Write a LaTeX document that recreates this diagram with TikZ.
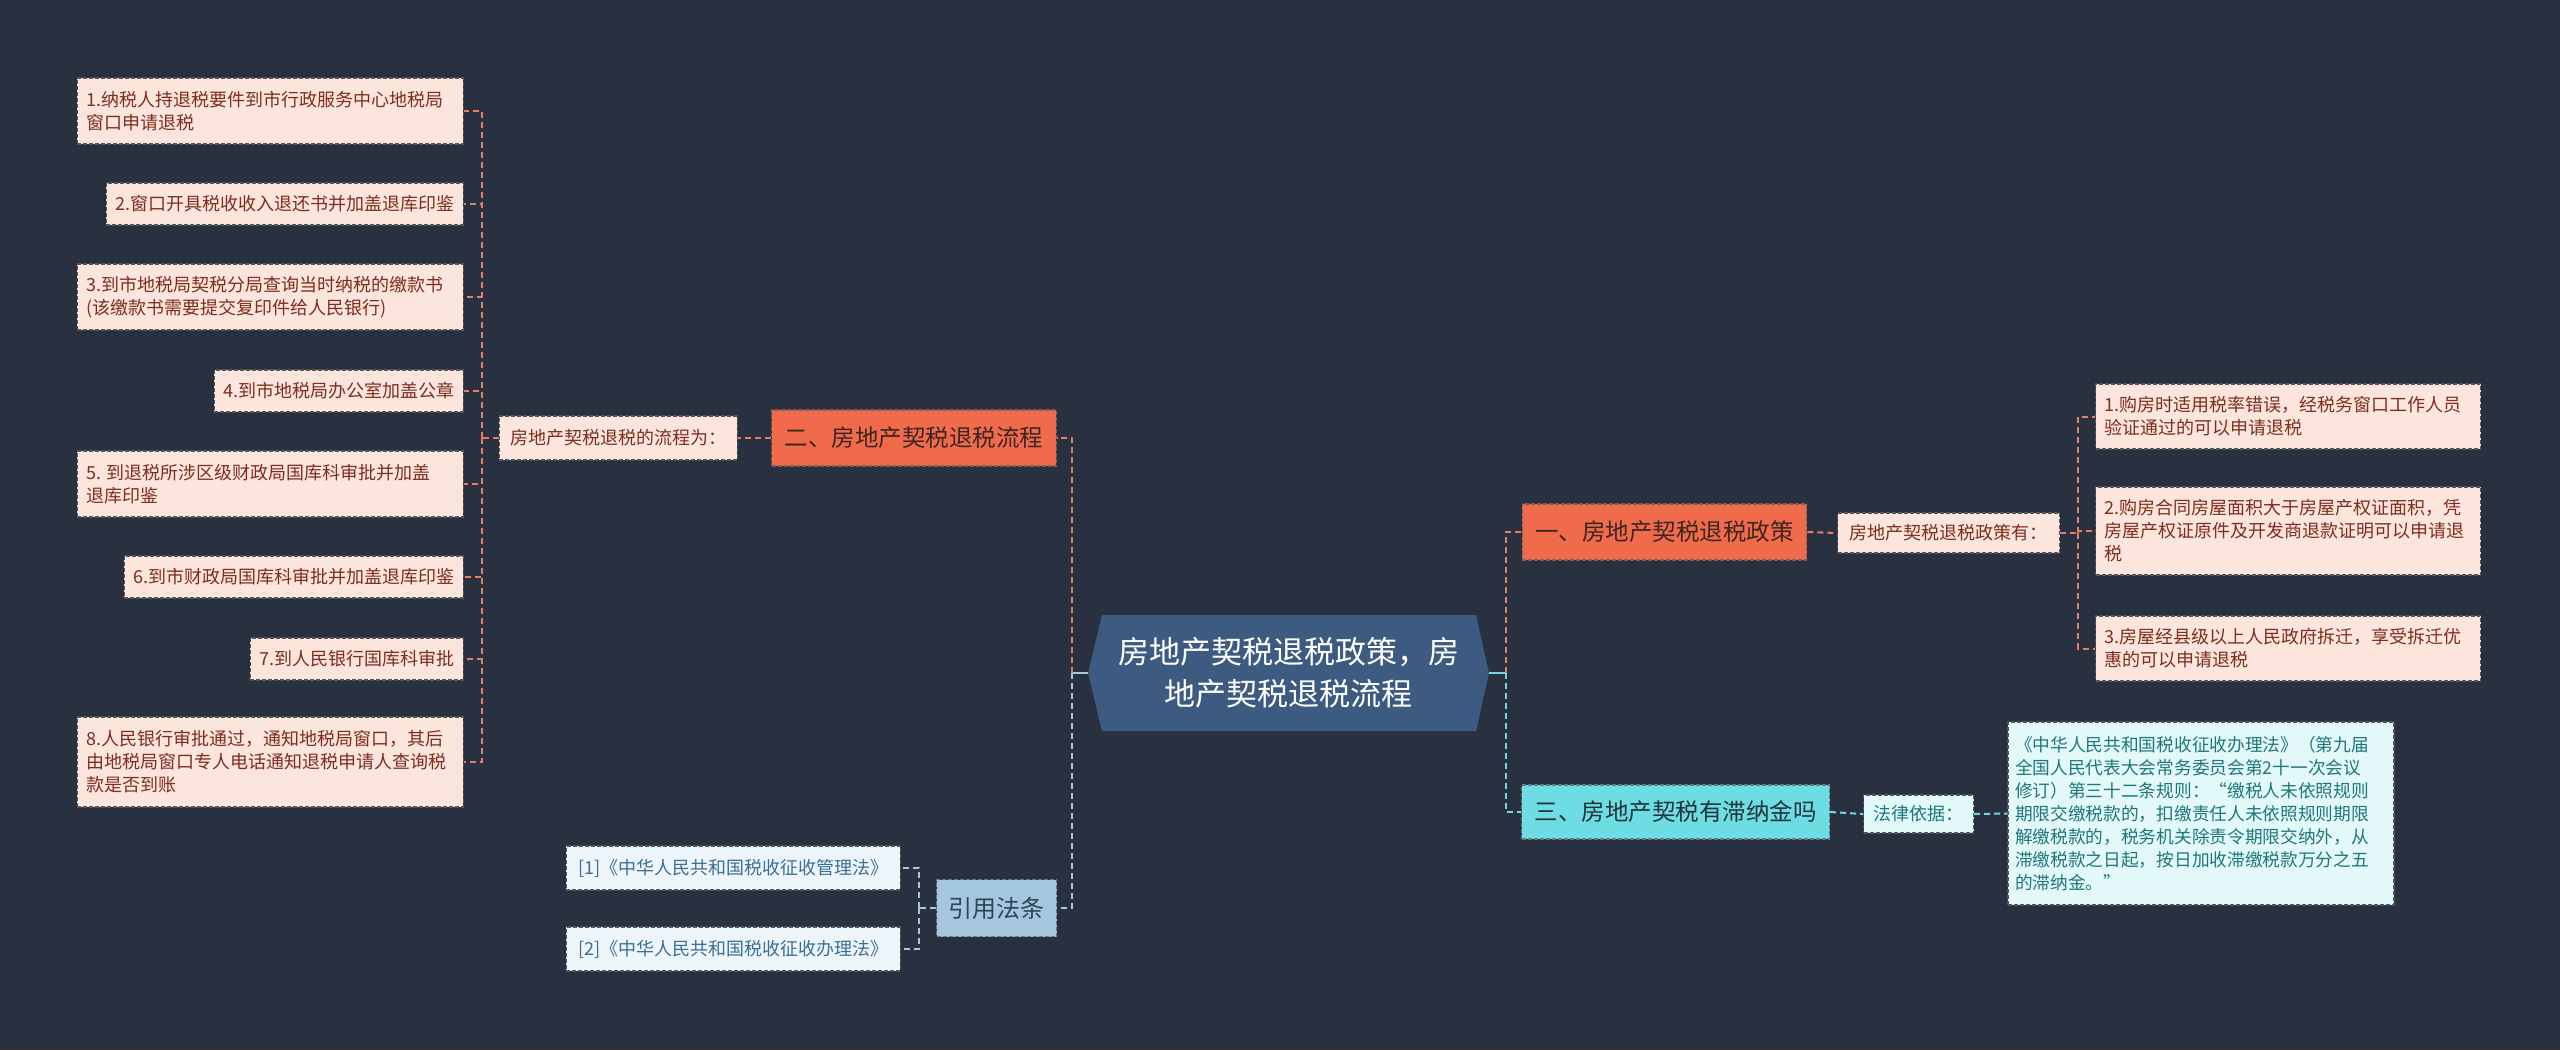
\documentclass[tikz,border=0pt]{standalone}
\usepackage{fontspec}
\setmainfont{Noto Sans CJK SC}
\definecolor{bg}{HTML}{293140}
\definecolor{leaffill}{HTML}{FCE5DD}
\definecolor{leaftext}{HTML}{7E2D1E}
\definecolor{boxdraw}{HTML}{555555}
\definecolor{orangefill}{HTML}{EF6B4C}
\definecolor{orangetext}{HTML}{3E2620}
\definecolor{orangeline}{HTML}{E57E64}
\definecolor{cyanfill}{HTML}{6EDDE3}
\definecolor{cyantext}{HTML}{1F3438}
\definecolor{cyanline}{HTML}{6FD9E0}
\definecolor{lawfill}{HTML}{E3F8F8}
\definecolor{lawtext}{HTML}{1F777C}
\definecolor{reffill}{HTML}{A5C7DE}
\definecolor{reftext}{HTML}{2C4558}
\definecolor{refleaf}{HTML}{EDF5FA}
\definecolor{refleaftext}{HTML}{3A6F96}
\definecolor{refline}{HTML}{A8C6DA}
\definecolor{centerfill}{HTML}{3D5A80}
\tikzset{
  base/.style={inner xsep=9pt, inner ysep=0pt, line width=1.3pt, dash pattern=on 4pt off 2pt,
    minimum height=42pt, font=\fontsize{18}{23}\selectfont, align=left, draw=boxdraw},
  leaf/.style={base, fill=leaffill, text=leaftext},
  mainorange/.style={base, fill=orangefill, text=orangetext, font=\fontsize{23.5}{28}\selectfont,
    inner xsep=13pt, minimum height=56pt, draw=boxdraw!70!orangefill},
  maincyan/.style={base, fill=cyanfill, text=cyantext, font=\fontsize{23.5}{28}\selectfont,
    inner xsep=13pt, minimum height=54pt, draw=boxdraw!70!cyanfill},
  lawbox/.style={base, fill=lawfill, text=lawtext},
  refmain/.style={base, fill=reffill, text=reftext, font=\fontsize{24}{28}\selectfont,
    inner xsep=12pt, minimum height=57pt, draw=boxdraw!70!reffill},
  refleafbox/.style={base, fill=refleaf, text=refleaftext, inner xsep=12pt, minimum height=44pt},
  conn/.style={line width=2pt, dash pattern=on 6pt off 4pt},
  oconn/.style={conn, draw=orangeline},
  cconn/.style={conn, draw=cyanline},
  bconn/.style={conn, draw=refline},
}
\begin{document}
\begin{tikzpicture}[x=1pt,y=-1pt]
\fill[bg] (0,0) rectangle (2560,1050);
\useasboundingbox (0,0) rectangle (2560,1050);

% center
\fill[centerfill] (1088,673) -- (1102,615) -- (1476,615) -- (1489,673) -- (1476,731) -- (1102,731) -- cycle;
\node[minimum width=401pt, minimum height=116pt, inner sep=0pt, text=white, align=center,
  font=\fontsize{31}{42}\selectfont] (c) at (1288.5,673) {房地产契税退税政策，房\\地产契税退税流程};

% left branch
\node[mainorange] (er) at (914,438) {二、房地产契税退税流程};
\node[leaf, anchor=east, minimum height=44pt, inner xsep=11pt] (lc) at (738,438) {房地产契税退税的流程为：};

\node[leaf, anchor=east, text width=368pt, minimum height=66pt] (l1) at (464,111) {1.纳税人持退税要件到市行政服务中心地税局\\窗口申请退税};
\node[leaf, anchor=east] (l2) at (464,204) {2.窗口开具税收收入退还书并加盖退库印鉴};
\node[leaf, anchor=east, text width=368pt, minimum height=66pt] (l3) at (464,297) {3.到市地税局契税分局查询当时纳税的缴款书\\(该缴款书需要提交复印件给人民银行)};
\node[leaf, anchor=east] (l4) at (464,391) {4.到市地税局办公室加盖公章};
\node[leaf, anchor=east, text width=368pt, minimum height=66pt] (l5) at (464,484) {5.\hspace{0.3em}到退税所涉区级财政局国库科审批并加盖\\退库印鉴};
\node[leaf, anchor=east] (l6) at (464,577) {6.到市财政局国库科审批并加盖退库印鉴};
\node[leaf, anchor=east] (l7) at (464,659) {7.到人民银行国库科审批};
\node[leaf, anchor=east, text width=368pt, minimum height=90pt] (l8) at (464,762) {8.人民银行审批通过，通知地税局窗口，其后\\由地税局窗口专人电话通知退税申请人查询税\\款是否到账};

% references
\node[refmain] (yin) at (996.5,908) {引用法条};
\node[refleafbox, anchor=east] (r1) at (901,868) {[1]《中华人民共和国税收征收管理法》};
\node[refleafbox, anchor=east] (r2) at (901,949) {[2]《中华人民共和国税收征收办理法》};

% right branch
\node[mainorange] (yi) at (1664.5,532) {一、房地产契税退税政策};
\node[leaf, minimum height=40pt, inner xsep=12pt] (pc) at (1948.5,533) {房地产契税退税政策有：};
\node[leaf, anchor=west, text width=367pt, minimum height=65pt] (p1) at (2095,416.5) {1.购房时适用税率错误，经税务窗口工作人员\\验证通过的可以申请退税};
\node[leaf, anchor=west, text width=367pt, minimum height=88pt] (p2) at (2095,531) {2.购房合同房屋面积大于房屋产权证面积，凭\\房屋产权证原件及开发商退款证明可以申请退\\税};
\node[leaf, anchor=west, text width=367pt, minimum height=65pt] (p3) at (2095,648.5) {3.房屋经县级以上人民政府拆迁，享受拆迁优\\惠的可以申请退税};

\node[maincyan] (san) at (1675.5,812) {三、房地产契税有滞纳金吗};
\node[lawbox, minimum height=38pt, inner xsep=10pt] (fl) at (1918.5,814) {法律依据：};
\node[lawbox, text width=372pt, inner xsep=7pt, minimum height=183pt,
  font=\fontsize{17.7}{23}\selectfont] (law) at (2201,813.5) {《中华人民共和国税收征收办理法》（第九届\\全国人民代表大会常务委员会第2十一次会议\\修订）第三十二条规则：“缴税人未依照规则\\期限交缴税款的，扣缴责任人未依照规则期限\\解缴税款的，税务机关除责令期限交纳外，从\\滞缴税款之日起，按日加收滞缴税款万分之五\\的滞纳金。”};

% connectors: center to main branches
\draw[line width=2pt, refline] (c.west) -- (1072,673);
\draw[oconn] (1072,673) |- (er.east);
\draw[bconn] (1072,673) |- (yin.east);
\draw[line width=2pt, cyanline] (c.east) -- (1506,673);
\draw[oconn] (1506,673) |- (yi.west);
\draw[cconn] (1506,673) |- (san.west);

% left branch connectors
\draw[oconn] (er.west) -- (lc.east);
\coordinate (lb) at (482,438);
\draw[oconn] (lc.west) -- (lb);
\foreach \n in {l1,l2,l3,l4,l5,l6,l7,l8} {\draw[oconn] (lb) |- (\n.east);}

% references connectors
\coordinate (rb) at (919,908);
\draw[bconn] (yin.west) -- (rb);
\draw[bconn] (rb) |- (r1.east);
\draw[bconn] (rb) |- (r2.east);

% right branch connectors
\draw[oconn] (yi.east) -- (pc.west);
\coordinate (pb) at (2078,533);
\draw[oconn] (pc.east) -- (pb);
\foreach \n in {p1,p2,p3} {\draw[oconn] (pb) |- (\n.west);}
\draw[cconn] (san.east) -- (fl.west);
\draw[cconn] (fl.east) -- (law.west);
\end{tikzpicture}
\end{document}
